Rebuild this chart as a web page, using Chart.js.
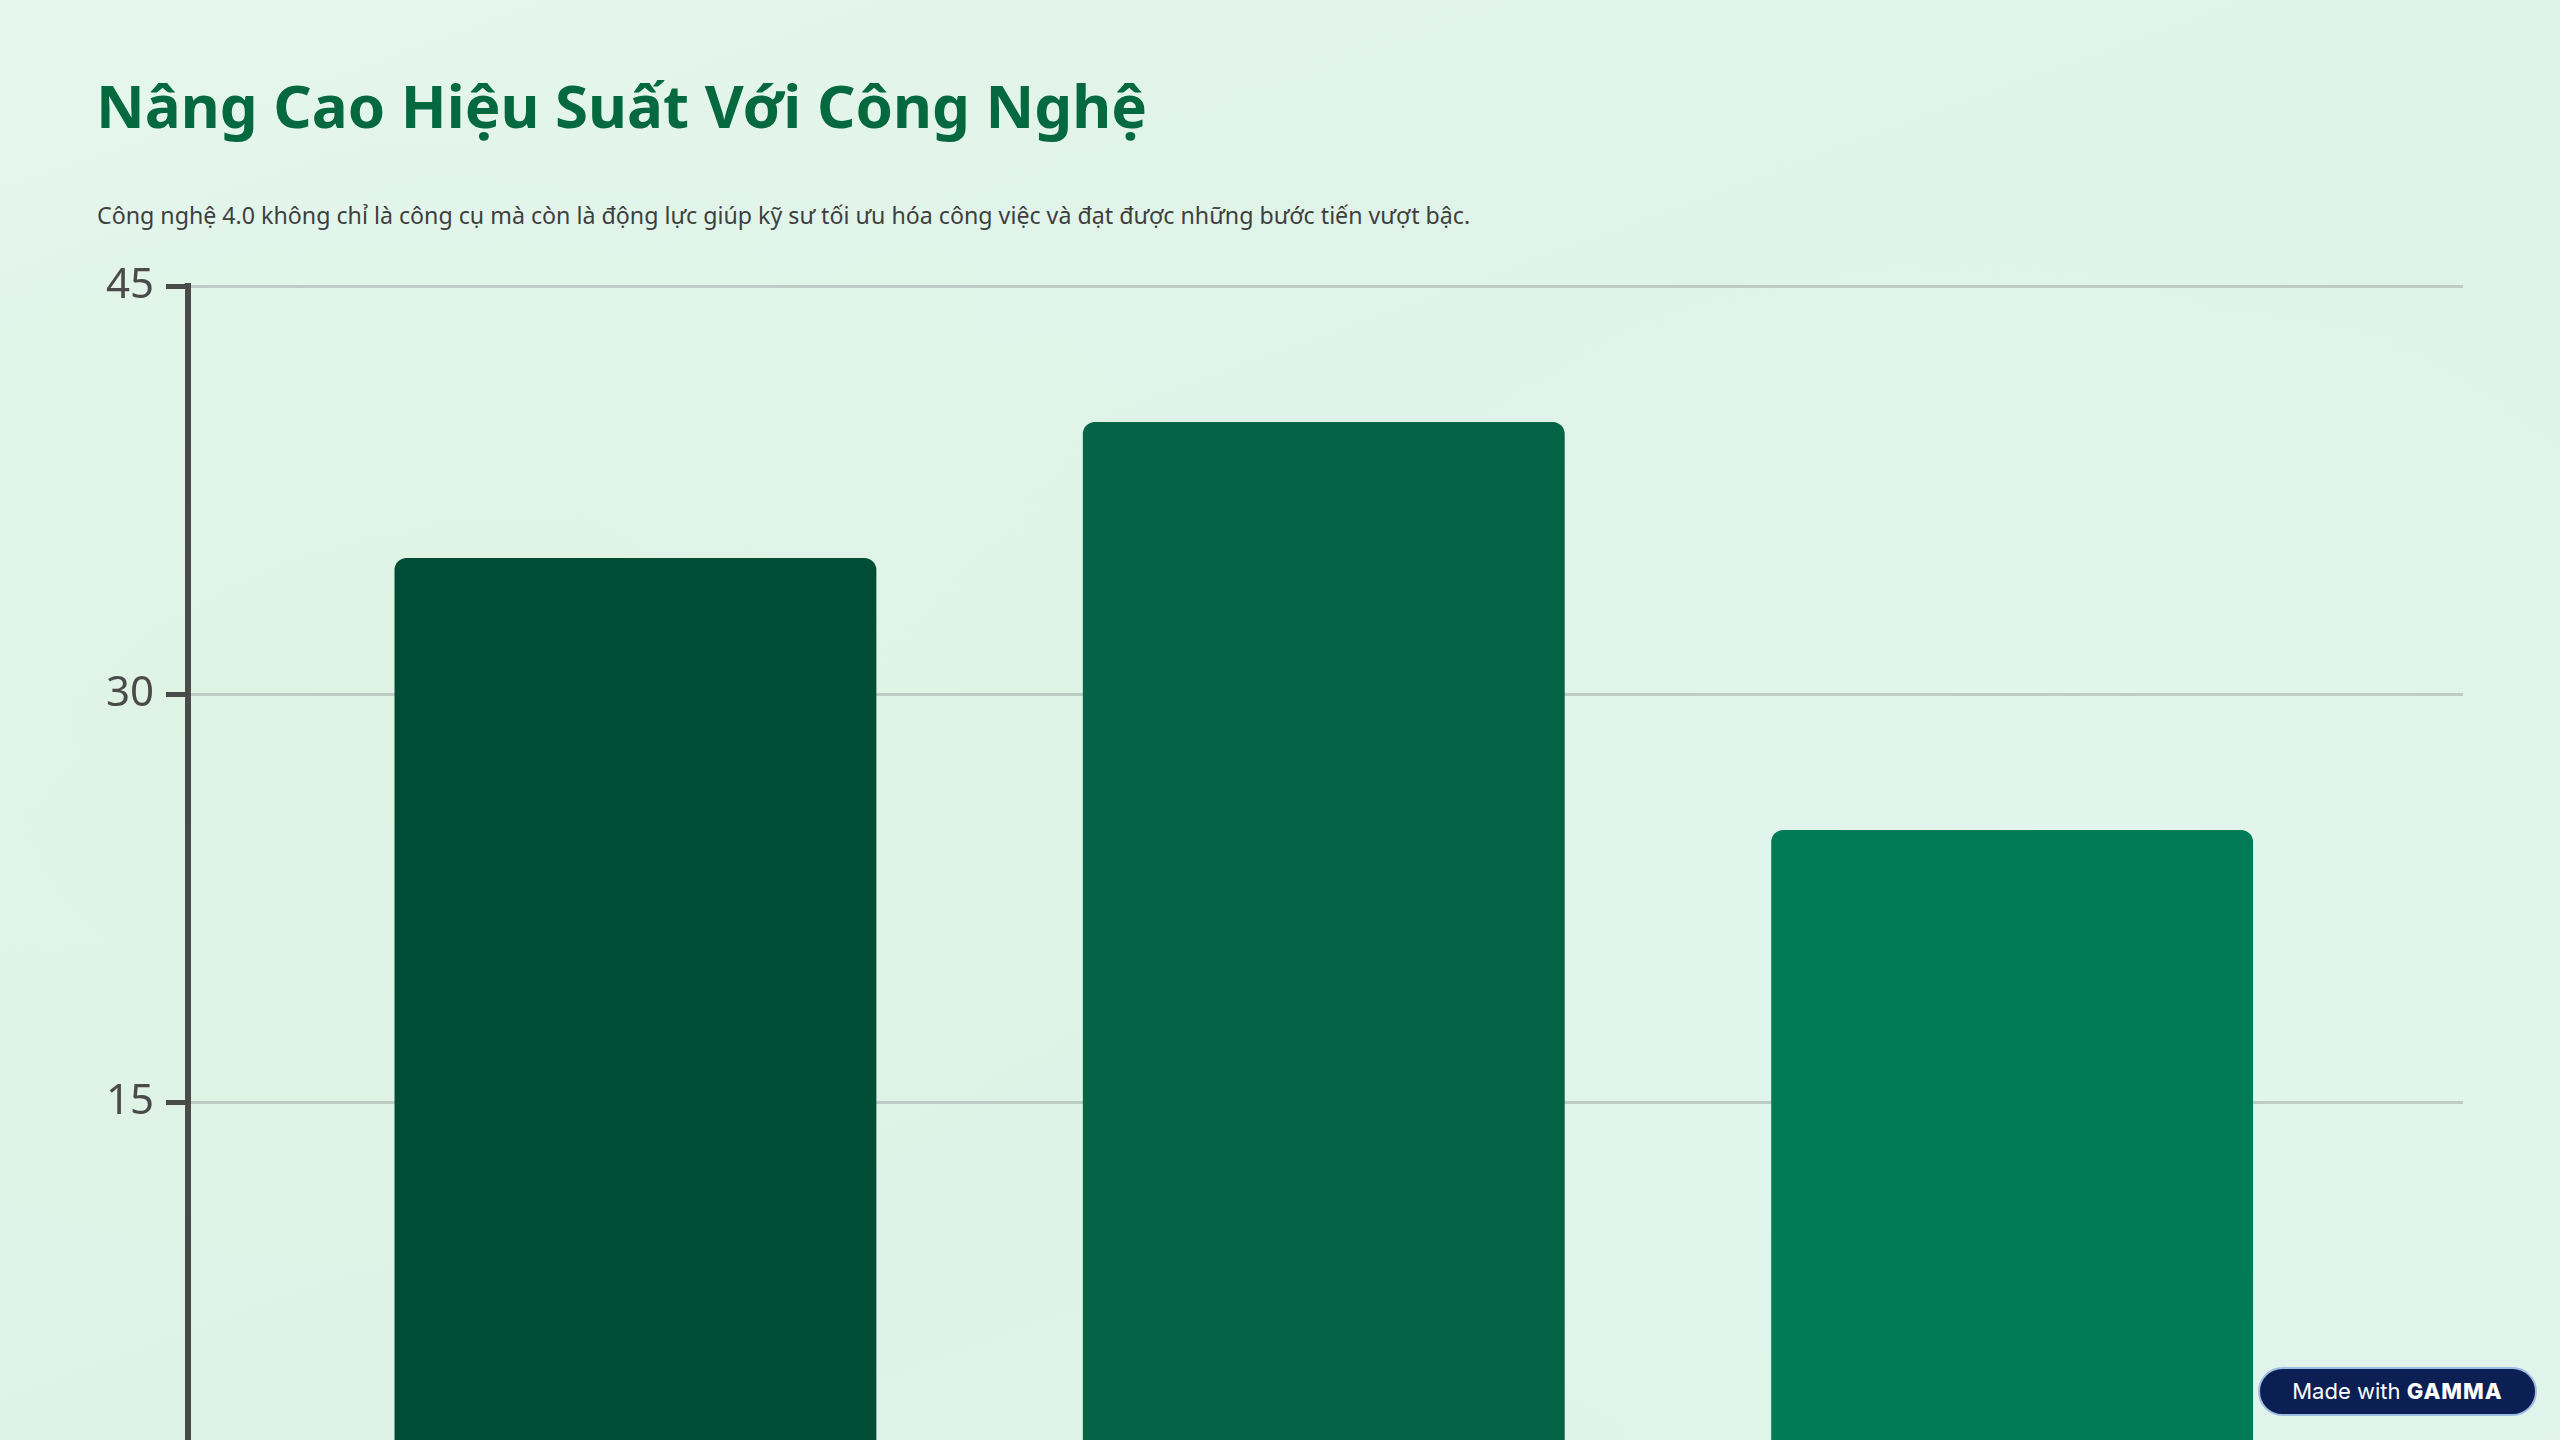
<!DOCTYPE html>
<html lang="vi">
<head>
<meta charset="utf-8">
<title>Nâng Cao Hiệu Suất Với Công Nghệ</title>
<script src="https://cdn.jsdelivr.net/npm/chart.js@4.4.1/dist/chart.umd.min.js"></script>
<style>
  html, body {
    margin: 0;
    padding: 0;
    width: 2560px;
    height: 1440px;
    overflow: hidden;
  }
  body {
    position: relative;
    background:
      radial-gradient(ellipse 900px 600px at 400px 700px, rgba(222, 244, 226, 0.6), rgba(222, 244, 226, 0)),
      radial-gradient(ellipse 1000px 700px at 2100px 900px, rgba(226, 247, 240, 0.8), rgba(226, 247, 240, 0)),
      linear-gradient(160deg, #e6f7ee 0%, #e0f3e8 35%, #dff2e7 65%, #e1f3ea 100%);
    font-family: "Noto Sans", "Open Sans", sans-serif;
  }
  #title {
    position: absolute;
    left: 96px;
    top: 75px;
    margin: 0;
    font-size: 60px;
    line-height: 60px;
    font-weight: 700;
    color: #05693f;
    white-space: nowrap;
  }
  #subtitle {
    position: absolute;
    left: 97px;
    top: 204px;
    margin: 0;
    font-size: 23.2px;
    line-height: 23px;
    color: #3d3f3e;
    white-space: nowrap;
  }
  #chartBox {
    position: absolute;
    left: 0;
    top: 0;
    width: 2560px;
    height: 1640px;
  }
  #badge {
    position: absolute;
    left: 2258px;
    top: 1367px;
    width: 275px;
    height: 45px;
    border: 2px solid #9fbde3;
    border-radius: 26px;
    background: #0b1f55;
    color: #ffffff;
    font-family: "Inter", "Noto Sans", sans-serif;
    font-size: 22px;
    line-height: 45px;
    text-align: center;
  }
  #badge b {
    font-weight: 800;
    letter-spacing: 1px;
  }
</style>
</head>
<body>
<h1 id="title">Nâng Cao Hiệu Suất Với Công Nghệ</h1>
<p id="subtitle">Công nghệ 4.0 không chỉ là công cụ mà còn là động lực giúp kỹ sư tối ưu hóa công việc và đạt được những bước tiến vượt bậc.</p>
<div id="chartBox"><canvas id="chart"></canvas></div>
<div id="badge">Made with <b>GAMMA</b></div>
<script>
// categories sit below the visible part of the slide
const categories = ["Tự động hóa", "Phân tích dữ liệu", "Trí tuệ nhân tạo"];
const values = [35, 40, 25];
const barColors = ["#004d36", "#036446", "#017b56"];
const yMin = 0;
const yMax = 45;
const yStep = 15;

const points = [];
for (let i = 0; i < values.length; i++) {
    points.push({ x: i, y: values[i] });
}

const ctx = document.getElementById("chart").getContext("2d");
let chart = new Chart(ctx, {
    type: "bar",
    data: {
        datasets: [
            {
                label: "Hiệu suất",
                data: points,
                backgroundColor: barColors,
                borderWidth: 0,
                borderRadius: { topLeft: 12, topRight: 12 },
                borderSkipped: "bottom",
                categoryPercentage: 1,
                barPercentage: 0.70
            }
        ]
    },
    options: {
        responsive: true,
        maintainAspectRatio: false,
        devicePixelRatio: 1,
        animation: false,
        layout: {
            padding: { top: 286, left: 0, right: 97, bottom: 70 }
        },
        plugins: {
            legend: { display: false },
            tooltip: { enabled: false }
        },
        scales: {
            x: {
                type: "linear",
                offset: false,
                min: -0.65,
                max: 2.655,
                afterBuildTicks: function (scale) {
                    scale.ticks = categories.map(function (c, i) { return { value: i }; });
                },
                afterFit: function (scale) { scale.height = 60; },
                grid: { display: false },
                border: { display: false },
                ticks: {
                    color: "#4a4a4a",
                    font: { family: "Noto Sans", size: 30 },
                    callback: function (v) {
                        return categories[v] !== undefined ? categories[v] : "";
                    }
                }
            },
            y: {
                min: yMin,
                max: yMax,
                afterFit: function (scale) { scale.width = 188; },
                grid: {
                    color: "#bdccc4",
                    lineWidth: 3,
                    drawTicks: true,
                    tickLength: 22,
                    tickColor: "#4a4a4a",
                    tickWidth: 5
                },
                border: {
                    display: true,
                    color: "#4a4a4a",
                    width: 6
                },
                ticks: {
                    stepSize: yStep,
                    padding: 12,
                    color: "#4a4a4a",
                    font: { family: "Noto Sans", size: 42 }
                }
            }
        }
    }
});
</script>
</body>
</html>
